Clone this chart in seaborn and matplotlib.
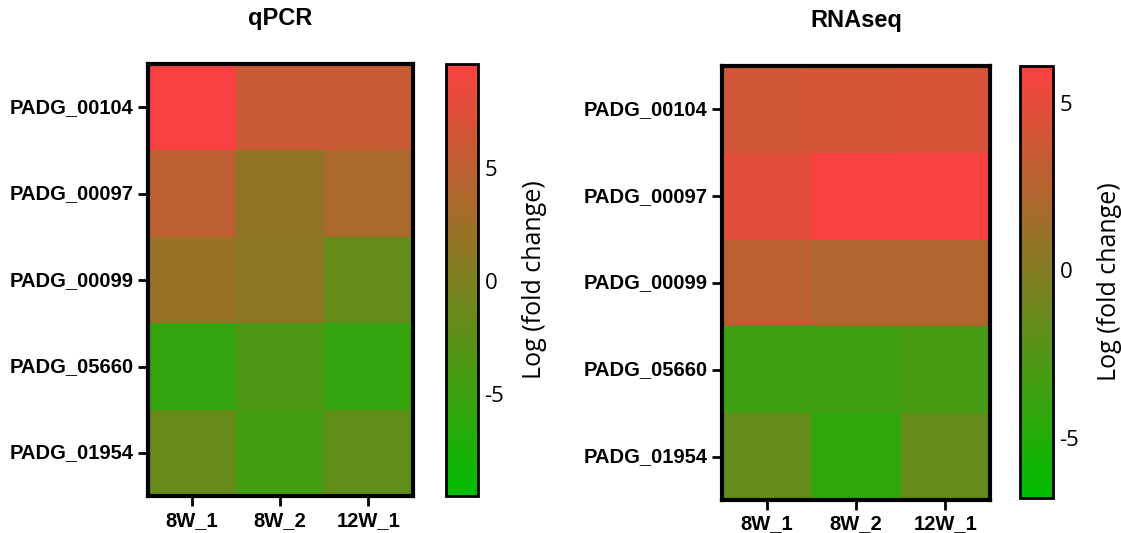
import numpy as np
import pandas as pd
import matplotlib
matplotlib.use('Agg')
import matplotlib.pyplot as plt
import seaborn as sns
from matplotlib.colors import LinearSegmentedColormap

sns.set_style('white')
plt.rcParams['font.family'] = ['Liberation Sans', 'DejaVu Sans']
plt.rcParams['axes.unicode_minus'] = False
plt.rcParams['text.color'] = 'black'
plt.rcParams['xtick.color'] = 'black'
plt.rcParams['ytick.color'] = 'black'
plt.rcParams['axes.labelcolor'] = 'black'

genes = ["PADG_00104", "PADG_00097", "PADG_00099", "PADG_05660", "PADG_01954"]
samples = ["8W_1", "8W_2", "12W_1"]

qpcr = [[9.5, 5.8, 5.8],
        [5.0, 1.6, 3.5],
        [2.3, 1.3, -1.9],
        [-5.5, -3.6, -5.5],
        [-1.6, -4.5, -2.2]]

rnaseq = [[3.9, 4.1, 4.3],
          [4.8, 6.1, 6.1],
          [3.0, 2.3, 2.3],
          [-3.6, -3.5, -3.2],
          [-1.7, -4.3, -1.7]]

qpcr_range = (-9.5, 9.6)
rnaseq_range = (-6.8, 6.1)
cbar_ticks = [-5, 0, 5]

cmap = LinearSegmentedColormap.from_list('gr', ['#00BE00', '#FA4141'])

fig = plt.figure(figsize=(11.21, 5.33), dpi=100)

panels = [
    ("qPCR", qpcr, qpcr_range, [0.132, 0.069, 0.236, 0.811], [0.398, 0.069, 0.028, 0.811]),
    ("RNAseq", rnaseq, rnaseq_range, [0.644, 0.062, 0.239, 0.814], [0.910, 0.066, 0.029, 0.810]),
]

for title, vals, rng, pos, cpos in panels:
    df = pd.DataFrame(vals, index=genes, columns=samples)
    ax = fig.add_axes(pos)
    cax = fig.add_axes(cpos)
    sns.heatmap(df, ax=ax, cbar_ax=cax, cmap=cmap, vmin=rng[0], vmax=rng[1],
                linewidths=0, cbar_kws={'ticks': cbar_ticks})
    for sp in ax.spines.values():
        sp.set_visible(True)
        sp.set_linewidth(3)
        sp.set_color('black')
    ax.tick_params(axis='both', which='both', length=7, width=2, color='black',
                   left=True, bottom=True)
    ax.set_yticklabels(genes, rotation=0, fontweight='bold', fontsize=14.5)
    ax.set_xticklabels(samples, rotation=0, fontweight='bold', fontsize=14.5)
    ax.set_title(title, fontweight='bold', fontsize=17, pad=28)
    ax.set_xlabel('')
    ax.set_ylabel('')

    cbar = ax.collections[0].colorbar
    cbar.outline.set_visible(True)
    cbar.outline.set_linewidth(2)
    cbar.outline.set_edgecolor('black')
    cax.tick_params(direction='in', left=True, right=True, length=5, width=1.5,
                    labelsize=16, pad=5)
    for t in cax.get_yticklabels():
        t.set_fontfamily(['Open Sans', 'DejaVu Sans'])
    cbar.set_label('Log (fold change)', fontsize=18, family=['Open Sans', 'DejaVu Sans'],
                   labelpad=13)

fig.savefig('out.png', dpi=100)
